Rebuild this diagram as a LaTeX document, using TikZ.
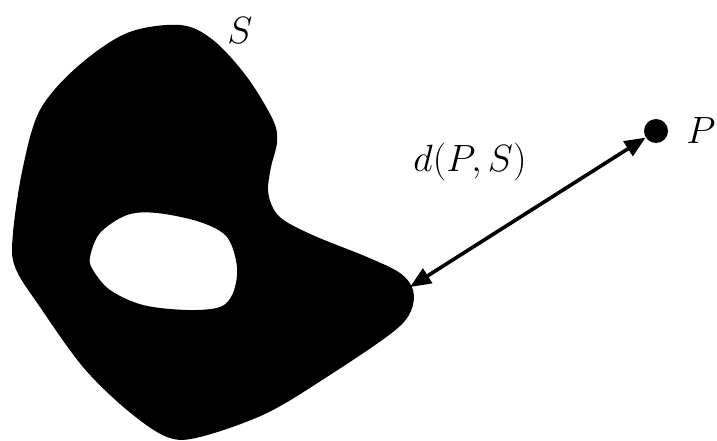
\RequirePackage{fix-cm}
\documentclass[tikz,border=0pt]{standalone}
\usepackage{fontspec}
\setmainfont{Liberation Serif}
\usetikzlibrary{positioning, arrows.meta}

\begin{document}
\begin{tikzpicture}[x=1pt, y=-1pt,
    setFill/.style={fill=black, even odd rule},
    distArrow/.style={line width=3.6pt, {Triangle[length=21pt, width=17pt]}-{Triangle[length=21pt, width=17pt]}},
    ptDot/.style={circle, fill=black, inner sep=0pt, minimum size=24pt},
    mathLabel/.style={font=\fontsize{38}{42}\selectfont, inner sep=0pt},
]
\useasboundingbox (0,0) rectangle (717,441);
% the set S with its hole
\fill[setFill]
  plot[smooth cycle, tension=0.55] coordinates {
    (180,25) (213,40) (247,77) (273,120) (277,142) (271,167) (268,190)
    (273,208) (285,221) (317,237) (367,257) (400,273) (413,290) (411,311)
    (393,332) (333,373) (267,413) (200,437) (167,437) (127,410) (83,367)
    (40,307) (15,267) (13,233) (23,167) (40,110) (77,67) (127,33)}
  plot[smooth cycle, tension=0.55] coordinates {
    (90,257) (100,233) (127,215) (157,213) (200,222) (227,237) (237,267)
    (233,293) (220,307) (187,310) (143,305) (110,290) (93,270)};
\node[mathLabel] (setS) at (240,31) {$S$};
% point P and the distance
\node[ptDot] (ptP) at (656,131) {};
\node[mathLabel, right=18pt of ptP] (labP) {$P$};
\coordinate (near) at (410,287);
\draw[distArrow] (near) -- (ptP);
\node[mathLabel] (dist) at (470,162) {$d(P,S)$};
\end{tikzpicture}
\end{document}
